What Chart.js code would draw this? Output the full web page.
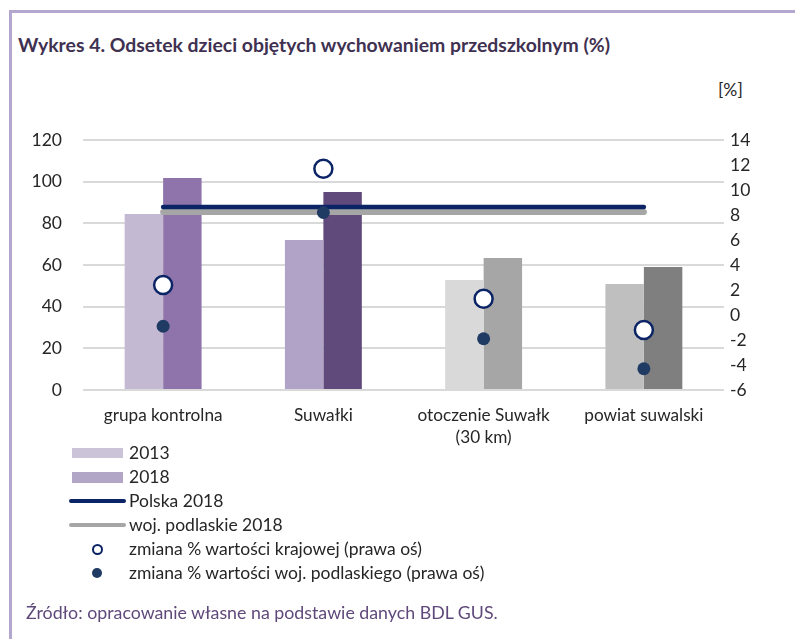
<!DOCTYPE html>
<html lang="pl">
<head>
<meta charset="utf-8">
<script src="https://cdn.jsdelivr.net/npm/chart.js@4.4.0/dist/chart.umd.min.js"></script>
<style>
    body { margin: 0; background: #fff; font-family: Lato, "Open Sans", sans-serif; }
    #wrap { position: relative; width: 795px; height: 639px; overflow: hidden; }
    #ramka { position: absolute; left: 9px; top: 10px; width: 800px; height: 700px;
        border-left: 3px solid #b4a7cf; border-top: 3px solid #b4a7cf; }
    #tytul { position: absolute; left: 18px; top: 33px; font-weight: bold; font-size: 19.4px; color: #3f3151; white-space: nowrap; }
    #jednostka { position: absolute; left: 718px; top: 79px; font-size: 17.5px; color: #262626; }
    #zrodlo { position: absolute; left: 26px; top: 601px; font-size: 17.8px; color: #5f497a; white-space: nowrap; }
    #wykres { position: absolute; left: 0; top: 0; }
    .leg { position: absolute; left: 0; font-size: 17.5px; color: #262626; white-space: nowrap; height: 20px; }
    .leg span { position: absolute; left: 129px; top: 0; line-height: 20px; }
</style>
</head>
<body>
<div id="wrap">
    <div id="ramka"></div>
    <div id="tytul">Wykres 4. Odsetek dzieci objętych wychowaniem przedszkolnym (%)</div>
    <div id="jednostka">[%]</div>
    <canvas id="wykres" width="795" height="639"></canvas>
    <div id="legenda"></div>
    <div id="zrodlo">Źródło: opracowanie własne na podstawie danych BDL GUS.</div>
</div>
<script>
// dane
const kategorie = ['grupa kontrolna', 'Suwałki', ['otoczenie Suwałk', '(30 km)'], 'powiat suwalski'];
const wartosci2013 = [84.5, 72.0, 52.8, 50.9];
const wartosci2018 = [101.8, 95.0, 63.4, 59.0];
const polska2018 = [87.8, 87.8, 87.8, 87.8];
const podlaskie2018 = [85.4, 85.4, 85.4, 85.4];
const zmianaKrajowa = [2.4, 11.7, 1.3, -1.2];
const zmianaPodlaskie = [-0.9, 8.2, -1.9, -4.3];
const ticksLewa = [0, 20, 40, 60, 80, 100, 120];
const ticksPrawa = [-6, -4, -2, 0, 2, 4, 6, 8, 10, 12, 14];

const kolory2013 = ['#c3b9d3', '#b1a2c8', '#d9d9d9', '#bfbfbf'];
const kolory2018 = ['#8e74aa', '#604a7b', '#a6a6a6', '#7f7f7f'];

const dados = {
    labels: kategorie,
    datasets: [
        {
            type: 'scatter', label: 'zmiana % wartości krajowej (prawa oś)',
            data: zmianaKrajowa.map((v, i) => ({ x: i, y: v })), yAxisID: 'y1', xAxisID: 'x',
            showLine: false, pointRadius: 9, pointBorderWidth: 2.5,
            pointBackgroundColor: '#ffffff', pointBorderColor: '#0b2466', order: 0
        },
        {
            type: 'scatter', label: 'zmiana % wartości woj. podlaskiego (prawa oś)',
            data: zmianaPodlaskie.map((v, i) => ({ x: i, y: v })), yAxisID: 'y1', xAxisID: 'x',
            showLine: false, pointRadius: 6.5, pointBorderWidth: 0,
            pointBackgroundColor: '#1f3a63', pointBorderColor: '#1f3a63', order: 0
        },
        {
            type: 'line', label: 'Polska 2018', data: polska2018, yAxisID: 'y',
            borderColor: '#0b2466', borderWidth: 4.5, borderCapStyle: 'round', pointRadius: 0, order: 1
        },
        {
            type: 'line', label: 'woj. podlaskie 2018', data: podlaskie2018, yAxisID: 'y',
            borderColor: '#a6a6a6', borderWidth: 6, borderCapStyle: 'round', pointRadius: 0, order: 2
        },
        {
            type: 'bar', label: '2013', data: wartosci2013, yAxisID: 'y',
            backgroundColor: kolory2013, categoryPercentage: 0.48, barPercentage: 1, order: 3
        },
        {
            type: 'bar', label: '2018', data: wartosci2018, yAxisID: 'y',
            backgroundColor: kolory2018, categoryPercentage: 0.48, barPercentage: 1, order: 3
        }
    ]
};

const fonte = { family: 'Lato, "Open Sans", sans-serif', size: 17.5 };

const config = {
    type: 'bar',
    data: dados,
    options: {
        responsive: false,
        animation: false,
        layout: { padding: { top: 140, left: 0, right: 0, bottom: 0 } },
        plugins: { legend: { display: false }, tooltip: { enabled: false } },
        scales: {
            x: {
                type: 'category', offset: true,
                grid: { display: false, drawTicks: false },
                border: { display: false },
                ticks: { color: '#262626', font: { family: fonte.family, size: 17.2, lineHeight: 1.28 }, padding: 14, maxRotation: 0, autoSkip: false },
                afterFit: s => { s.height = 249; }
            },
            y: {
                position: 'left', min: 0, max: 120,
                afterBuildTicks: s => { s.ticks = ticksLewa.map(v => ({ value: v })); },
                grid: { color: '#d9d9d9', lineWidth: 2, drawTicks: false },
                border: { display: false },
                ticks: { color: '#262626', font: fonte, padding: 21 },
                afterFit: s => { s.width = 83; }
            },
            y1: {
                position: 'right', min: -6, max: 14,
                afterBuildTicks: s => { s.ticks = ticksPrawa.map(v => ({ value: v })); },
                grid: { display: false, drawTicks: false },
                border: { display: false },
                ticks: { color: '#262626', font: fonte, padding: 6 },
                afterFit: s => { s.width = 71; }
            }
        }
    }
};

const grafico = new Chart(document.getElementById('wykres'), config);

// legenda pionowa jak w oryginale
const legenda = document.getElementById('legenda');
const itensLegenda = [
    { texto: '2013', y: 443, simbolo: '<div style="position:absolute;left:72px;top:5px;width:51px;height:10px;background:#cbc3d7"></div>' },
    { texto: '2018', y: 467, simbolo: '<div style="position:absolute;left:72px;top:5px;width:51px;height:11px;background:#b1a6c5"></div>' },
    { texto: 'Polska 2018', y: 491, simbolo: '<div style="position:absolute;left:69px;top:8px;width:57px;height:4px;border-radius:2px;background:#0b2466"></div>' },
    { texto: 'woj. podlaskie 2018', y: 515, simbolo: '<div style="position:absolute;left:69px;top:8px;width:57px;height:4px;border-radius:2px;background:#a6a6a6"></div>' },
    { texto: 'zmiana % wartości krajowej (prawa oś)', y: 539, simbolo: '<div style="position:absolute;left:92px;top:5px;width:7px;height:7px;border-radius:50%;border:2.5px solid #0b2466"></div>' },
    { texto: 'zmiana % wartości woj. podlaskiego (prawa oś)', y: 563, simbolo: '<div style="position:absolute;left:92px;top:5px;width:10px;height:10px;border-radius:50%;background:#1f3a63"></div>' }
];
for (let i = 0; i < itensLegenda.length; i++) {
    const item = document.createElement('div');
    item.className = 'leg';
    item.style.top = itensLegenda[i].y + 'px';
    item.innerHTML = itensLegenda[i].simbolo + '<span>' + itensLegenda[i].texto + '</span>';
    legenda.appendChild(item);
}
</script>
</body>
</html>
